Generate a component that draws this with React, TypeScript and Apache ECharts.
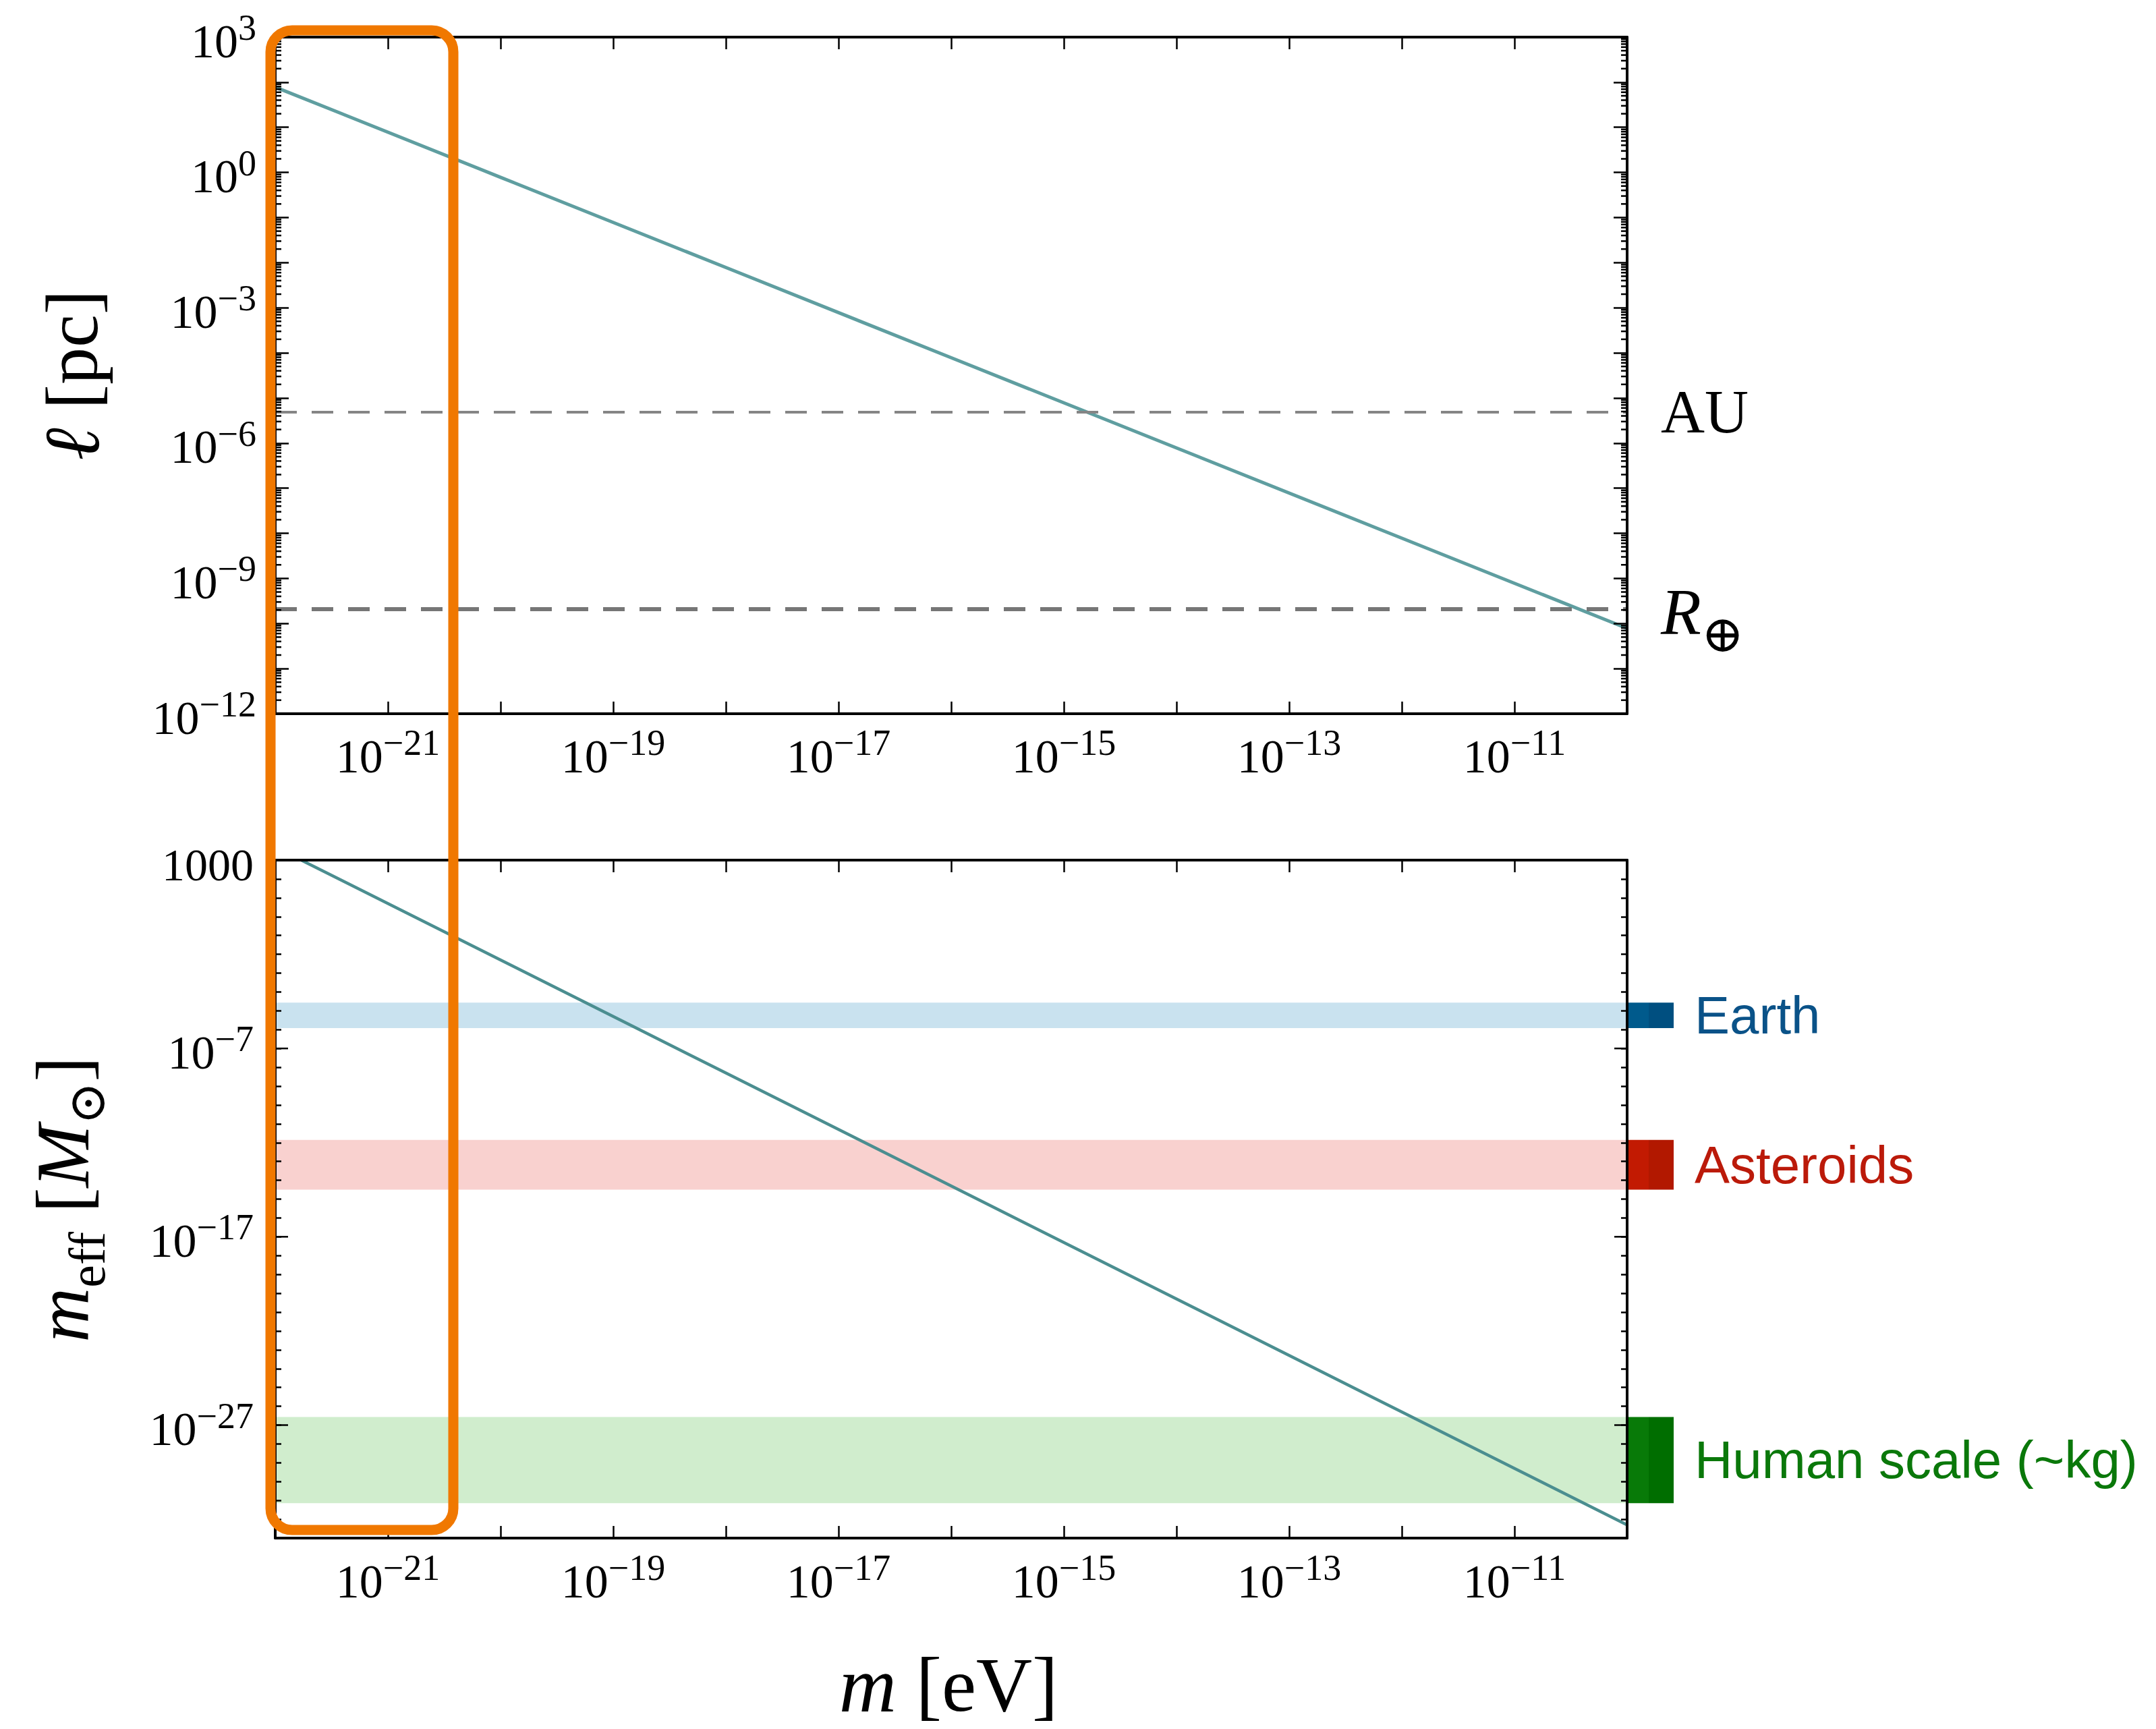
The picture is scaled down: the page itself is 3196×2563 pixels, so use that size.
import React, { useEffect, useRef } from 'react';
import * as echarts from 'echarts';

// ---------------- data ----------------
const xRangeEV = [1e-22, 1e-10];
const topYRangePc = [1e-12, 1e3];
const bottomYRangeMsun = [1e-33, 1e3];

// top panel: de Broglie length vs mass
const topMassEV = [1e-22, 1e-20, 1e-18, 1e-16, 1e-14, 1e-12, 1e-10];
const topLengthPc = [78, 0.78, 7.8e-3, 7.8e-5, 7.8e-7, 7.8e-9, 7.8e-11];

// bottom panel: effective mass vs mass
const bottomMassEV = [1.7e-22, 1e-20, 1e-18, 1e-16, 1e-14, 1e-12, 1e-10];
const bottomMeffMsun = [1e3, 5e-3, 5e-9, 5e-15, 5e-21, 5e-27, 5e-33];

// reference lengths (pc)
const refLineNames = ['AU', 'R⊕'];
const refLineValuesPc = [4.85e-6, 2.07e-10];

// mass bands (M_sun)
const bandNames = ['Earth', 'Asteroids', 'Human scale (~kg)'];
const bandUpperMsun = [2.7e-5, 1.4e-12, 2.7e-27];
const bandLowerMsun = [1.2e-6, 3.2e-15, 7.2e-32];

// tick labels (exponents)
const xLabelExps = [-21, -19, -17, -15, -13, -11];
const topYLabelExps = [3, 0, -3, -6, -9, -12];
const bottomYLabelExps = [3, -7, -17, -27];

// ---------------- styles / layout ----------------
const W = 3196;
const H = 2563;
const GRID_LEFT = 408;
const GRID_WIDTH = 2004;
const TOP_GRID = { top: 55, height: 1003 };
const BOT_GRID = { top: 1275, height: 1005 };

const SERIF = '"Liberation Serif", "DejaVu Serif", serif';
const SANS = '"Liberation Sans", Arial, "DejaVu Sans", sans-serif';
const MINUS = '\u2212';

const bandLight = ['#c9e2ef', '#f9d1cf', '#d0edcd'];
const bandDark1 = ['#005a8c', '#c21a02', '#087a08'];
const bandDark2 = ['#004f80', '#b21800', '#006e00'];
const bandText = ['#0a5288', '#bb1a0a', '#0a780a'];

const lg = (v: number) => Math.log10(v);
const pow10 = (e: number) => `{b|10}{e|${e < 0 ? MINUS + Math.abs(e) : String(e)}}`;

const tickRich = {
  b: { fontFamily: SERIF, fontSize: 70, lineHeight: 82, verticalAlign: 'bottom', color: '#000' },
  e: { fontFamily: SERIF, fontSize: 54, verticalAlign: 'top', color: '#000' },
  n: { fontFamily: SERIF, fontSize: 68, lineHeight: 82, verticalAlign: 'bottom', color: '#000' },
};

const frame = { color: '#000', width: 4 };
const tickStyle = { color: '#000', width: 2.5 };

function makeXAxis(gridIndex: number, position: string, labels: boolean, margin: number) {
  return {
    type: 'value',
    gridIndex,
    position,
    min: lg(xRangeEV[0]),
    max: lg(xRangeEV[1]),
    interval: 1,
    axisLine: { show: true, onZero: false, lineStyle: frame },
    axisTick: { show: true, inside: true, length: 18, lineStyle: tickStyle },
    splitLine: { show: false },
    axisLabel: labels
      ? {
          show: true,
          margin,
          showMinLabel: true,
          showMaxLabel: true,
          formatter: (v: number) => {
            const e = Math.round(v);
            return xLabelExps.includes(e) ? pow10(e) : '';
          },
          rich: tickRich,
        }
      : { show: false },
    z: 5,
  };
}

function makeYAxis(
  gridIndex: number,
  position: string,
  range: number[],
  tickLen: number,
  formatter: ((v: number) => string) | null,
  margin: number
) {
  return {
    type: 'value',
    gridIndex,
    position,
    min: lg(range[0]),
    max: lg(range[1]),
    interval: 1,
    axisLine: { show: true, onZero: false, lineStyle: frame },
    axisTick: { show: true, inside: true, length: tickLen, lineStyle: tickStyle },
    splitLine: { show: false },
    axisLabel: formatter
      ? { show: true, margin, showMinLabel: true, showMaxLabel: true, formatter, rich: tickRich }
      : { show: false },
    z: 5,
  };
}

// minor ticks (2..9 per decade) on the top panel's y axis
const topMinorTicks: number[][] = [];
for (let n = lg(topYRangePc[0]); n < lg(topYRangePc[1]); n++) {
  for (let k = 2; k <= 9; k++) topMinorTicks.push([lg(xRangeEV[0]), n + Math.log10(k)]);
}
const bottomLongTicks = bottomYLabelExps.map((e) => [lg(xRangeEV[0]), e]);

function tickRenderer(len: number) {
  return (params: any, api: any) => {
    const cs = params.coordSys;
    const y = api.coord([api.value(0), api.value(1)])[1];
    return {
      type: 'group',
      children: [
        { type: 'line', shape: { x1: cs.x, y1: y, x2: cs.x + len, y2: y }, style: { stroke: '#000', lineWidth: 2.5 } },
        {
          type: 'line',
          shape: { x1: cs.x + cs.width - len, y1: y, x2: cs.x + cs.width, y2: y },
          style: { stroke: '#000', lineWidth: 2.5 },
        },
      ],
    };
  };
}

const option: any = {
  animation: false,
  backgroundColor: '#ffffff',
  grid: [
    { left: GRID_LEFT, top: TOP_GRID.top, width: GRID_WIDTH, height: TOP_GRID.height, outerBoundsMode: 'none', containLabel: false },
    { left: GRID_LEFT, top: BOT_GRID.top, width: GRID_WIDTH, height: BOT_GRID.height, outerBoundsMode: 'none', containLabel: false },
  ],
  xAxis: [
    makeXAxis(0, 'bottom', true, 16),
    makeXAxis(0, 'top', false, 0),
    makeXAxis(1, 'bottom', true, 17),
    makeXAxis(1, 'top', false, 0),
  ],
  yAxis: [
    makeYAxis(
      0,
      'left',
      topYRangePc,
      20,
      (v: number) => {
        const e = Math.round(v);
        return topYLabelExps.includes(e) ? pow10(e) : '';
      },
      28
    ),
    makeYAxis(0, 'right', topYRangePc, 20, null, 0),
    makeYAxis(
      1,
      'left',
      bottomYRangeMsun,
      9,
      (v: number) => {
        const e = Math.round(v);
        if (!bottomYLabelExps.includes(e)) return '';
        return e === 3 ? '{n|1000}' : pow10(e);
      },
      32
    ),
    makeYAxis(1, 'right', bottomYRangeMsun, 9, null, 0),
  ],
  series: [
    {
      type: 'line',
      name: 'length',
      xAxisIndex: 0,
      yAxisIndex: 0,
      data: topMassEV.map((m, i) => [lg(m), lg(topLengthPc[i])]),
      showSymbol: false,
      symbol: 'none',
      lineStyle: { color: '#5f9ea0', width: 5 },
      z: 4,
      markLine: {
        silent: true,
        symbol: ['none', 'none'],
        animation: false,
        data: refLineValuesPc.map((v, i) => ({
          yAxis: lg(v),
          lineStyle: { color: i === 0 ? '#858585' : '#767676', width: i === 0 ? 4 : 6, type: [32, 22] },
          label: {
            show: true,
            position: 'end',
            distance: 50,
            color: '#000',
            padding: i === 0 ? 0 : [30, 0, 0, 0],
            formatter: i === 0 ? `{a|${refLineNames[0]}}` : `{r|${refLineNames[1][0]}}{s|${refLineNames[1].slice(1)}}`,
            rich: {
              a: { fontFamily: SERIF, fontSize: 90, color: '#000' },
              r: { fontFamily: SERIF, fontSize: 98, fontStyle: 'italic', verticalAlign: 'top', color: '#000' },
              s: { fontFamily: SERIF, fontSize: 76, lineHeight: 120, verticalAlign: 'bottom', color: '#000' },
            },
          },
        })),
      },
    },
    {
      type: 'custom',
      name: 'topMinorTicks',
      xAxisIndex: 0,
      yAxisIndex: 0,
      data: topMinorTicks,
      renderItem: tickRenderer(9),
      z: 6,
      silent: true,
    },
    {
      type: 'custom',
      name: 'bands',
      xAxisIndex: 2,
      yAxisIndex: 2,
      clip: false,
      silent: true,
      z: 2,
      encode: { x: 0, y: [1, 2] },
      data: bandNames.map((_, i) => [lg(xRangeEV[0]), lg(bandUpperMsun[i]), lg(bandLowerMsun[i]), i]),
      renderItem: (params: any, api: any) => {
        const cs = params.coordSys;
        const i = api.value(3);
        const yTop = api.coord([api.value(0), api.value(1)])[1];
        const yBot = api.coord([api.value(0), api.value(2)])[1];
        const h = yBot - yTop;
        const right = cs.x + cs.width;
        return {
          type: 'group',
          children: [
            { type: 'rect', shape: { x: cs.x, y: yTop, width: cs.width, height: h }, style: { fill: bandLight[i] } },
            { type: 'rect', shape: { x: right + 1, y: yTop, width: 31, height: h }, style: { fill: bandDark1[i] } },
            { type: 'rect', shape: { x: right + 32, y: yTop, width: 37, height: h }, style: { fill: bandDark2[i] } },
            {
              type: 'text',
              x: right + 100,
              y: (yTop + yBot) / 2,
              style: {
                text: bandNames[i],
                fill: bandText[i],
                fontSize: 78,
                fontFamily: SANS,
                align: 'left',
                verticalAlign: 'middle',
                textAlign: 'left',
                textVerticalAlign: 'middle',
              },
            },
          ],
        };
      },
    },
    {
      type: 'line',
      name: 'meff',
      xAxisIndex: 2,
      yAxisIndex: 2,
      data: bottomMassEV.map((m, i) => [lg(m), lg(bottomMeffMsun[i])]),
      showSymbol: false,
      symbol: 'none',
      lineStyle: { color: '#4b8e90', width: 4.5 },
      z: 4,
    },
    {
      type: 'custom',
      name: 'bottomLongTicks',
      xAxisIndex: 2,
      yAxisIndex: 2,
      data: bottomLongTicks,
      renderItem: tickRenderer(19),
      z: 6,
      silent: true,
    },
  ],
  graphic: [
    {
      type: 'text',
      x: 107,
      y: 556,
      rotation: Math.PI / 2,
      style: {
        text: '{i|ℓ}{r| [pc]}',
        align: 'center',
        verticalAlign: 'middle',
        textAlign: 'center',
        textVerticalAlign: 'middle',
        rich: {
          i: { fontFamily: SERIF, fontSize: 116, fontStyle: 'italic', fill: '#000', color: '#000' },
          r: { fontFamily: SERIF, fontSize: 110, fill: '#000', color: '#000' },
        },
      },
    },
    {
      type: 'text',
      x: 102,
      y: 1778,
      rotation: Math.PI / 2,
      style: {
        text: '{m|m}{s|eff}{b| [}{m|M}{s|⊙}{b|]}',
        align: 'center',
        verticalAlign: 'middle',
        textAlign: 'center',
        textVerticalAlign: 'middle',
        rich: {
          m: { fontFamily: SERIF, fontSize: 112, fontStyle: 'italic', verticalAlign: 'top', fill: '#000', color: '#000' },
          s: { fontFamily: SERIF, fontSize: 76, lineHeight: 130, verticalAlign: 'bottom', fill: '#000', color: '#000' },
          b: { fontFamily: SERIF, fontSize: 112, verticalAlign: 'top', fill: '#000', color: '#000' },
        },
      },
    },
    {
      type: 'text',
      x: 1406,
      y: 2497,
      style: {
        text: '{i|m}{r| [eV]}',
        align: 'center',
        verticalAlign: 'middle',
        textAlign: 'center',
        textVerticalAlign: 'middle',
        rich: {
          i: { fontFamily: SERIF, fontSize: 118, fontStyle: 'italic', fill: '#000', color: '#000' },
          r: { fontFamily: SERIF, fontSize: 115, fill: '#000', color: '#000' },
        },
      },
    },
    {
      type: 'rect',
      z: 100,
      shape: { x: 401, y: 45, width: 271, height: 2223, r: 32 },
      style: { fill: 'none', stroke: '#f07800', lineWidth: 15 },
      silent: true,
    },
  ],
};

export default function App() {
  const ref = useRef<HTMLDivElement>(null);
  useEffect(() => {
    document.body.style.margin = '0';
    const chart = echarts.init(ref.current as HTMLDivElement, null, { renderer: 'svg' });
    chart.setOption(option);
    return () => chart.dispose();
  }, []);
  return <div ref={ref} style={{ width: W, height: H, background: '#ffffff' }} />;
}
